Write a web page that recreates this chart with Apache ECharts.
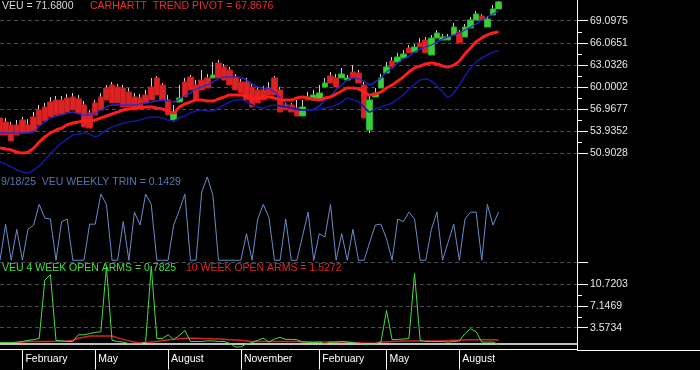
<!DOCTYPE html>
<html><head><meta charset="utf-8">
<script src="https://cdn.jsdelivr.net/npm/echarts@6/dist/echarts.min.js"></script>
<style>html,body{margin:0;padding:0;background:#000;}#c{width:700px;height:370px;}</style>
</head><body><div id="c"></div>
<script>
// ---- weekly categories ----
const startDate = '2024-01-05';
const dataWeeks = 90;
const blankWeeks = 14;
const monthNames = ['January','February','March','April','May','June','July','August','September','October','November','December'];
const labelMonths = [2, 5, 8, 11];

// ---- VEU weekly candles ----
const open  = [55.75,55.20,54.79,54.79,55.47,54.79,55.89,56.85,57.26,57.94,58.22,58.22,58.49,58.63,58.36,57.53,56.43,57.81,58.63,59.86,
               60.28,60.00,59.86,59.32,58.63,58.49,58.90,60.00,61.24,60.28,58.22,55.47,57.94,60.69,61.37,60.28,60.96,61.24,61.24,63.29,
               62.75,62.33,61.37,60.69,60.69,60.00,59.59,59.59,59.86,61.24,59.59,57.53,57.53,57.12,56.02,58.63,58.22,58.22,60.00,61.51,
               61.24,61.24,60.96,62.06,61.92,60.28,54.10,58.63,59.86,61.92,63.57,63.43,63.98,65.35,64.80,66.04,66.45,64.39,66.72,66.45,
               66.45,67.14,67.55,66.86,68.10,69.19,69.74,68.23,69.88,70.70];
const close = [53.41,53.41,52.59,53.41,53.69,53.82,53.96,54.79,55.34,55.89,56.16,56.30,56.57,56.85,56.43,54.51,54.37,56.16,56.85,58.22,
               57.81,57.81,57.26,57.26,56.85,57.26,57.81,58.22,58.90,58.22,56.16,56.43,58.49,58.63,59.59,58.22,59.59,59.86,61.65,61.24,
               60.96,60.28,59.59,59.18,58.22,57.26,57.81,58.22,58.90,58.90,56.57,56.85,56.57,56.02,57.26,58.22,58.90,59.18,60.55,60.55,
               60.00,61.79,61.24,61.24,60.55,55.75,58.22,59.18,61.24,62.75,62.75,64.12,64.53,64.67,65.49,65.49,64.67,66.72,67.41,66.86,
               66.86,68.23,66.04,68.23,69.19,70.02,69.19,69.33,70.70,71.68];
const low   = [53.41,53.41,52.59,53.41,53.69,53.82,53.96,54.79,55.34,55.89,56.16,56.30,56.57,56.85,56.43,54.51,54.37,56.16,56.85,58.22,
               57.81,57.81,57.26,57.26,56.85,57.26,57.81,58.22,58.90,58.22,56.16,55.20,57.94,58.63,59.59,58.22,59.59,59.86,61.24,61.24,
               60.96,60.28,59.59,59.18,58.22,57.26,57.81,58.22,58.90,58.90,56.57,56.85,56.57,56.02,56.02,58.22,58.22,58.22,60.00,60.55,
               60.00,61.24,60.96,61.24,60.55,55.75,53.69,58.63,59.86,61.92,62.75,63.43,63.98,64.67,64.80,65.49,64.67,64.39,66.72,66.45,
               66.45,67.14,66.04,66.86,68.10,69.19,69.19,68.23,69.88,70.70];
const high  = [56.16,55.75,55.20,55.47,55.89,55.61,56.57,57.53,57.81,58.63,58.77,58.77,59.04,59.18,58.90,58.08,56.85,58.22,59.18,60.28,
               60.69,60.41,60.28,59.86,59.18,59.04,59.59,61.24,61.51,60.55,58.90,57.53,60.28,61.24,61.65,60.96,62.33,61.79,63.43,63.71,
               63.16,62.75,61.79,61.10,61.24,60.41,60.00,60.14,60.69,61.51,60.00,57.94,57.81,58.22,58.22,59.32,59.59,60.28,61.24,62.06,
               61.79,62.61,61.65,63.02,62.33,60.69,58.77,59.86,61.79,63.43,64.12,64.67,65.08,65.76,65.90,66.72,66.86,67.14,67.82,67.27,
               67.27,68.78,67.82,68.65,69.61,70.43,70.02,69.74,71.25,71.80];

// ---- overlays ----
const pivot = [51.63,51.49,51.36,51.08,50.95,51.08,51.63,52.45,53.14,53.69,54.10,54.37,54.79,55.06,55.20,55.34,55.34,55.47,55.75,56.02,
               56.30,56.57,56.85,56.98,57.12,57.12,57.26,57.26,57.12,56.98,56.71,56.43,57.26,57.67,57.94,58.22,58.22,58.08,58.08,58.36,
               58.63,58.90,58.90,58.90,58.77,58.49,58.49,58.63,58.63,58.49,58.22,58.22,58.22,58.49,58.63,58.49,58.36,58.22,58.49,58.63,
               59.04,59.45,59.86,59.86,59.73,59.32,58.90,59.04,59.32,59.86,60.28,60.82,61.37,62.06,62.61,62.88,63.16,63.29,63.16,62.88,
               62.75,63.02,63.57,64.53,65.35,66.18,66.72,67.14,67.41,67.55];
const upperBand = [53.69,53.69,53.69,53.69,53.69,53.69,53.82,54.65,55.20,55.75,56.02,56.16,56.43,56.57,56.30,56.16,56.16,56.43,56.85,57.26,
               57.53,57.53,57.53,57.53,57.53,57.67,57.81,57.94,58.08,58.22,58.08,57.94,58.36,58.77,59.18,59.73,60.00,60.28,60.69,61.10,
               61.37,61.37,61.37,61.24,60.96,60.41,60.00,59.86,59.73,59.32,58.49,57.81,57.12,56.85,56.85,56.85,56.98,57.40,58.22,58.77,
               59.59,60.28,60.96,61.24,61.10,60.82,60.28,60.69,61.24,62.06,62.61,63.29,63.84,64.25,64.80,65.21,65.49,65.76,66.18,66.59,
               66.86,67.14,67.41,67.82,68.23,68.65,69.19,69.61,70.02,70.43];
const lowerBand = [49.71,49.44,49.02,48.61,48.34,48.20,48.61,49.16,49.98,50.81,51.63,52.32,52.87,53.41,53.55,53.69,53.55,53.14,53.55,54.10,
               54.51,54.79,55.06,55.20,55.34,55.47,55.75,55.89,55.89,55.75,55.47,55.34,55.75,56.02,56.43,56.71,56.85,56.71,56.71,57.12,
               57.53,57.94,58.22,58.22,57.94,57.53,57.26,57.12,57.40,57.53,57.40,57.26,57.12,56.98,56.85,56.85,56.85,56.98,57.12,57.26,
               57.53,57.94,58.49,58.22,57.94,57.26,56.57,56.98,57.26,57.53,57.81,58.36,58.90,59.73,60.41,60.96,61.10,60.82,60.14,59.32,
               58.63,59.18,60.28,61.51,62.61,63.43,63.98,64.39,64.80,64.94];

// ---- weekly TRIN (plotted height, panel units 0..1) ----
const trin = [0.02,0.44,0.02,0.38,0.02,0.38,0.43,0.67,0.51,0.50,0.02,0.47,0.50,0.02,0.02,0.02,0.44,0.44,0.79,0.67,
              0.02,0.02,0.47,0.02,0.58,0.43,0.79,0.67,0.02,0.02,0.02,0.43,0.60,0.79,0.02,0.02,0.81,0.99,0.78,0.02,
              0.02,0.02,0.02,0.02,0.33,0.02,0.50,0.67,0.52,0.02,0.02,0.50,0.02,0.02,0.30,0.58,0.02,0.33,0.29,0.67,
              0.02,0.33,0.02,0.38,0.02,0.02,0.23,0.43,0.44,0.27,0.02,0.50,0.47,0.58,0.50,0.02,0.02,0.38,0.58,0.02,
              0.23,0.44,0.02,0.50,0.58,0.58,0.02,0.67,0.43,0.58];

// ---- open arms ----
const arms4 = [1.1,1.1,1.1,1.2,1.3,1.5,1.6,1.8,11.4,12.3,1.5,1.4,1.3,1.3,2.4,2.4,2.6,2.8,2.9,13.6,
               1.5,1.3,1.2,0.95,0.95,0.95,1.2,13.7,1.8,1.8,2.4,1.6,2.3,3.1,1.3,1.3,1.3,1.4,1.4,1.3,
               1.3,1.0,0.4,0.4,0.9,1.1,1.5,1.85,1.2,1.7,2.0,1.65,1.65,1.6,1.2,1.2,1.1,1.2,0.9,1.2,
               1.2,1.3,1.2,1.1,1.0,0.9,0.9,0.9,1.2,6.4,1.6,1.65,1.7,1.8,12.5,1.5,1.3,1.3,1.3,1.3,
               1.2,1.3,1.4,2.6,3.4,2.9,1.2,1.2,1.2,0.78];
const arms10 = [1.1,1.1,1.1,1.1,1.2,1.3,1.3,1.3,1.3,1.3,1.35,1.35,1.4,1.5,1.85,2.0,2.2,2.2,2.2,2.2,
               2.2,1.9,1.65,1.4,1.2,1.05,1.1,1.2,1.3,1.45,1.55,1.65,1.75,1.85,1.85,1.85,1.8,1.75,1.75,1.7,
               1.65,1.6,1.55,1.5,1.4,1.3,1.3,1.3,1.3,1.3,1.3,1.3,1.3,1.3,1.25,1.2,1.2,1.2,1.2,1.2,
               1.2,1.2,1.2,1.15,1.1,1.0,1.0,1.0,1.2,1.2,1.3,1.35,1.4,1.4,1.4,1.4,1.4,1.4,1.4,1.4,
               1.45,1.5,1.5,1.55,1.6,1.6,1.6,1.6,1.58,1.53];
const armsNeutral = 1;

// ---- axis tick values ----
const priceTicks = [50.9028,53.9352,56.9677,60.0002,63.0326,66.0651,69.0975];
const priceMinorTicks = [52.4190,55.4515,58.4840,61.5164,64.5489,67.5813];
const armsTicks = [3.5734,7.1469,10.7203,14.2937];
const armsLabels = [3.5734,7.1469,10.7203];
const armsMinorTicks = [5.3602,8.9336];

// ---- titles ----
const priceTitle = 'VEU = 71.6800';
const pivotTitle = 'CARHARTT  TREND PIVOT = 67.8676';
const trinTitle = '9/18/25  VEU WEEKLY TRIN = 0.1429';
const arms4Title = 'VEU 4 WEEK OPEN ARMS = 0.7825';
const arms10Title = '10 WEEK OPEN ARMS = 1.5272';

// ---- build ----
const dates = [];
const t0 = Date.parse(startDate + 'T00:00:00Z');
for (let i = 0; i < dataWeeks + blankWeeks; i++) {
  dates.push(i < dataWeeks ? new Date(t0 + i * 7 * 86400000).toISOString().slice(0, 10) : ' ' + i);
}
function isLabelWeek(idx, val) {
  if (idx >= dataWeeks) return false;
  const m = +val.slice(5, 7), d = +val.slice(8, 10);
  return d <= 7 && labelMonths.indexOf(m) >= 0;
}
// wick series: flat "body" at the body top so only the high-low line shows
const wicks = open.map((o, i) => { const t = Math.max(o, close[i]); return [t, t, low[i], high[i]]; });
const bodies = open.map((o, i) => [o, close[i], Math.min(o, close[i]), Math.max(o, close[i])]);

const FONT = 'Liberation Sans, Arial, sans-serif';
const FS = 10.5;
const dashed = { show: true, lineStyle: { color: '#4c4c4c', type: [4, 3], width: 1 } };
const G = { left: 0, right: 123, outerBoundsMode: 'none', containLabel: false };

const chart = echarts.init(document.getElementById('c'), null, { renderer: 'canvas' });
chart.setOption({
  backgroundColor: '#000',
  animation: false,
  textStyle: { fontFamily: FONT },
  title: [
    { text: priceTitle, left: 2, top: 0, padding: 0, textStyle: { color: '#d8d8d8', fontSize: FS, fontWeight: 'normal', fontFamily: FONT, lineHeight: 12 } },
    { text: pivotTitle, left: 90, top: 0, padding: 0, textStyle: { color: '#e83030', fontSize: FS, fontWeight: 'normal', fontFamily: FONT, lineHeight: 12 } },
    { text: trinTitle, left: 1, top: 176, padding: 0, textStyle: { color: '#5577b0', fontSize: FS, fontWeight: 'normal', fontFamily: FONT, lineHeight: 12 } },
    { text: arms4Title, left: 2, top: 262, padding: 0, textStyle: { color: '#40e040', fontSize: FS, fontWeight: 'normal', fontFamily: FONT, lineHeight: 12 } },
    { text: arms10Title, left: 186, top: 262, padding: 0, textStyle: { color: '#e02828', fontSize: FS, fontWeight: 'normal', fontFamily: FONT, lineHeight: 12 } }
  ],
  grid: [
    Object.assign({ top: 0, height: 175 }, G),
    Object.assign({ top: 175, height: 87.6 }, G),
    Object.assign({ top: 262.6, height: 87.4 }, G)
  ],
  xAxis: [0, 1, 2].map(g => ({
    type: 'category', gridIndex: g, data: dates, boundaryGap: false,
    show: g === 2,
    axisLine: { show: true, lineStyle: { color: '#ffffff', width: 1 } },
    axisTick: { show: true, interval: isLabelWeek, length: 20, lineStyle: { color: '#ffffff', width: 1 } },
    axisLabel: {
      show: true, interval: isLabelWeek, align: 'left', margin: 4, padding: [0, 0, 0, 3],
      color: '#ffffff', fontSize: FS, fontFamily: FONT,
      formatter: v => monthNames[+v.slice(5, 7) - 1]
    },
    splitLine: { show: false }
  })),
  yAxis: [
    { type: 'value', gridIndex: 0, position: 'right', min: 47.926, max: 71.938,
      axisLine: { show: true, lineStyle: { color: '#ffffff' } },
      axisTick: { show: true, length: 11, customValues: priceTicks, lineStyle: { color: '#ffffff' } },
      axisLabel: { show: true, customValues: priceTicks, margin: 13, color: '#e8e8e8', fontSize: FS, fontFamily: FONT, formatter: v => v.toFixed(4) },
      splitLine: dashed },
    { type: 'value', gridIndex: 0, position: 'right', min: 47.926, max: 71.938,
      axisLine: { show: false },
      axisTick: { show: true, length: 5, customValues: priceMinorTicks, lineStyle: { color: '#ffffff' } },
      axisLabel: { show: false }, splitLine: { show: false } },
    { type: 'value', gridIndex: 1, position: 'right', min: -0.007, max: 1.012,
      axisLine: { show: true, lineStyle: { color: '#ffffff' } },
      axisTick: { show: false }, axisLabel: { show: false }, splitLine: { show: false } },
    { type: 'value', gridIndex: 2, position: 'right', min: -0.1, max: 14.2937,
      axisLine: { show: true, lineStyle: { color: '#ffffff' } },
      axisTick: { show: true, length: 11, customValues: armsTicks, lineStyle: { color: '#ffffff' } },
      axisLabel: { show: true, customValues: armsLabels, margin: 13, color: '#e8e8e8', fontSize: FS, fontFamily: FONT, formatter: v => v.toFixed(4) },
      splitLine: dashed },
    { type: 'value', gridIndex: 2, position: 'right', min: -0.1, max: 14.2937,
      axisLine: { show: false },
      axisTick: { show: true, length: 5, customValues: armsMinorTicks, lineStyle: { color: '#ffffff' } },
      axisLabel: { show: false }, splitLine: { show: false } }
  ],
  graphic: [
    { type: 'line', shape: { x1: 577, y1: 350.5, x2: 700, y2: 350.5 }, style: { stroke: '#ffffff', lineWidth: 1 }, silent: true }
  ],
  series: [
    { name: 'wicks', type: 'candlestick', xAxisIndex: 0, yAxisIndex: 0, data: wicks, barWidth: 1, z: 2,
      itemStyle: { color: '#d0d0d0', color0: '#d0d0d0', borderColor: '#d0d0d0', borderColor0: '#d0d0d0', borderWidth: 1 } },
    { name: 'bodies', type: 'candlestick', xAxisIndex: 0, yAxisIndex: 0, data: bodies, barWidth: 6, z: 3,
      itemStyle: { color: '#38d038', color0: '#dc2222', borderColor: '#2cb02c', borderColor0: '#c01c1c', borderWidth: 1 } },
    { name: 'upper', type: 'line', xAxisIndex: 0, yAxisIndex: 0, data: upperBand, symbol: 'none', smooth: 0.3, z: 4,
      lineStyle: { color: '#2a2ad6', width: 1.3 } },
    { name: 'lower', type: 'line', xAxisIndex: 0, yAxisIndex: 0, data: lowerBand, symbol: 'none', smooth: 0.3, z: 4,
      lineStyle: { color: '#16169c', width: 1.6 } },
    { name: 'pivot', type: 'line', xAxisIndex: 0, yAxisIndex: 0, data: pivot, symbol: 'none', smooth: 0.3, z: 5,
      lineStyle: { color: '#ff1c1c', width: 3 } },
    { name: 'trin', type: 'line', xAxisIndex: 1, yAxisIndex: 2, data: trin, symbol: 'none', z: 4,
      lineStyle: { color: '#6a8cc8', width: 1 } },
    { name: 'arms10', type: 'line', xAxisIndex: 2, yAxisIndex: 3, data: arms10, symbol: 'none', z: 4,
      lineStyle: { color: '#d82222', width: 1.5 },
      markLine: { silent: true, symbol: 'none', label: { show: false },
        lineStyle: { color: '#ffffff', width: 1.5, type: 'solid' }, data: [{ yAxis: armsNeutral }] } },
    { name: 'arms4', type: 'line', xAxisIndex: 2, yAxisIndex: 3, data: arms4, symbol: 'none', z: 5,
      lineStyle: { color: '#44e044', width: 1 } }
  ]
});
</script></body></html>
